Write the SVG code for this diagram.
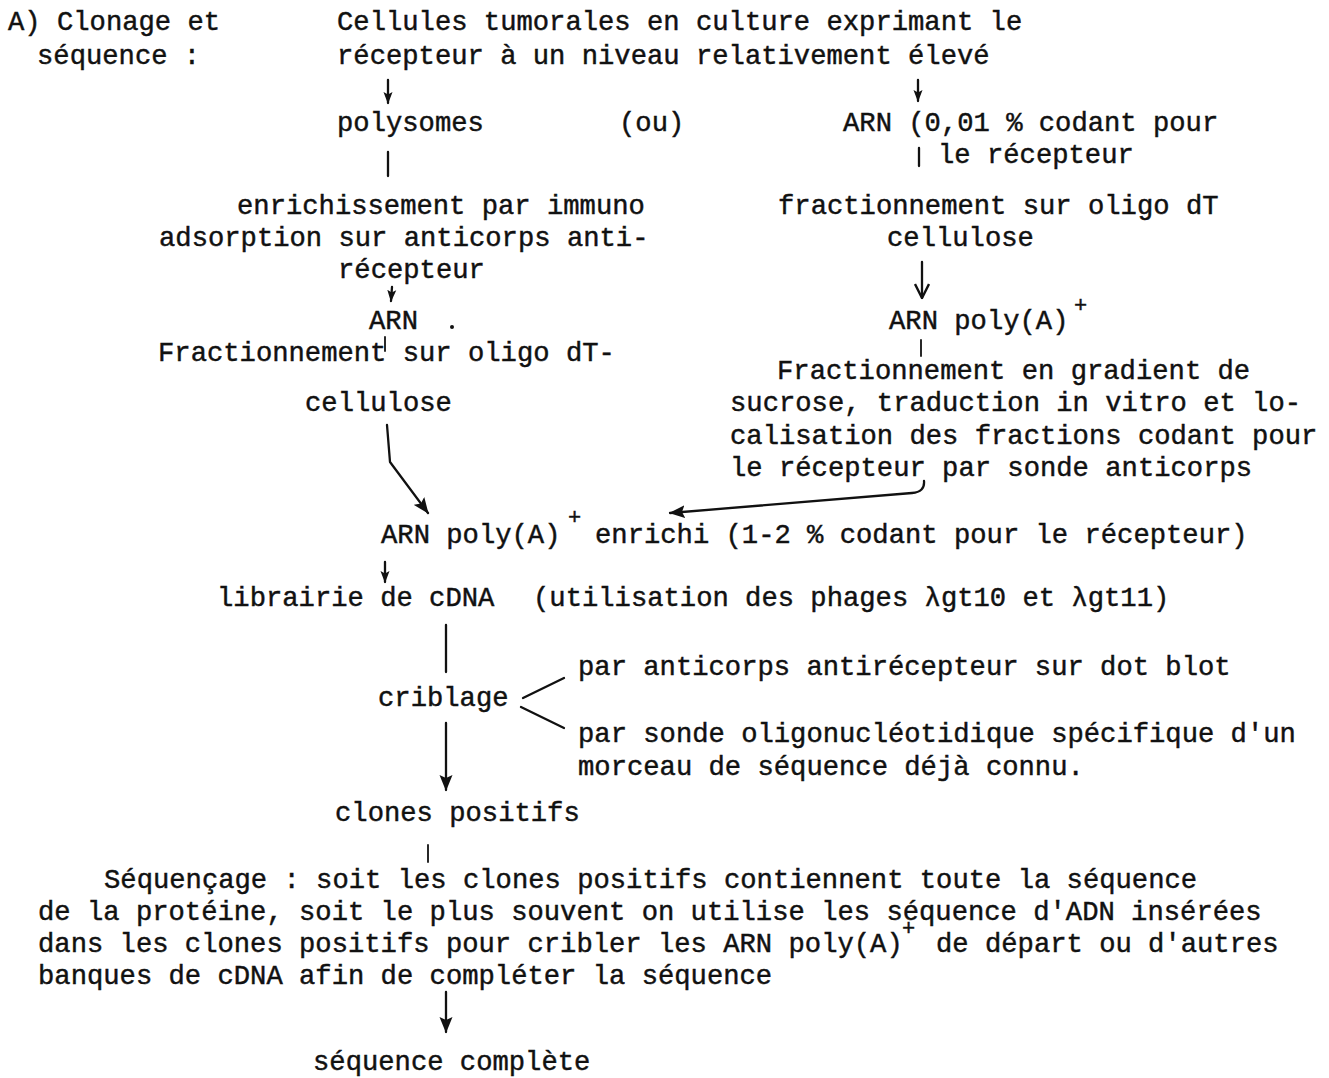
<svg xmlns="http://www.w3.org/2000/svg" width="1329" height="1078" viewBox="0 0 1329 1078">
  <style>
    text { font-family: "Liberation Mono", "DejaVu Sans Mono", monospace; font-size: 27.2px; fill: #111; stroke: #111; stroke-width: 0.45; }
    .sup { font-size: 22px; }
    .ln { fill: none; stroke: #111; stroke-width: 2.3; stroke-linecap: round; stroke-linejoin: round; }
    .thin { stroke-width: 1.8; }
  </style>
  <defs>
    <marker id="headS" viewBox="0 0 12 10" refX="11" refY="5" markerWidth="12" markerHeight="10" markerUnits="userSpaceOnUse" orient="auto">
      <path d="M0,0.5 L12,5 L0,9.5 L2.5,5 z" fill="#111"/>
    </marker>
    <marker id="headL" viewBox="0 0 16 14" refX="15" refY="7" markerWidth="16" markerHeight="14" markerUnits="userSpaceOnUse" orient="auto">
      <path d="M0,0.5 L16,7 L0,13.5 L3,7 z" fill="#111"/>
    </marker>
    <marker id="headV" viewBox="0 0 16 16" refX="15" refY="8" markerWidth="16" markerHeight="16" markerUnits="userSpaceOnUse" orient="auto">
      <path d="M1,1 L15,8 L1,15" fill="none" stroke="#111" stroke-width="2.4"/>
    </marker>
  </defs>

  <!-- section heading -->
  <g id="heading">
    <text x="8" y="30">A) Clonage et</text>
    <text x="37" y="64">séquence :</text>
  </g>

  <g id="n-cells">
    <text x="337" y="30">Cellules tumorales en culture exprimant le</text>
    <text x="337" y="64">récepteur à un niveau relativement élevé</text>
  </g>

  <g id="n-polysomes">
    <text x="337" y="131">polysomes</text>
  </g>
  <g id="n-ou">
    <text x="619" y="131">(ou)</text>
  </g>
  <g id="n-arn-total">
    <text x="843" y="131">ARN (0,01 % codant pour</text>
    <text x="938" y="163">le récepteur</text>
  </g>

  <g id="n-immuno">
    <text x="237" y="214">enrichissement par immuno</text>
    <text x="159" y="246">adsorption sur anticorps anti-</text>
    <text x="338" y="278">récepteur</text>
  </g>
  <g id="n-oligo-right">
    <text x="778" y="214">fractionnement sur oligo dT</text>
    <text x="887" y="246">cellulose</text>
  </g>

  <g id="n-arn-left">
    <text x="369" y="329">ARN</text>
    <circle cx="452" cy="327" r="2" fill="#111"/>
  </g>
  <g id="n-polyA-right">
    <text x="889" y="329">ARN poly(A)</text>
    <text class="sup" x="1074" y="312">+</text>
  </g>

  <g id="n-oligo-left">
    <text x="158" y="361">Fractionnement sur oligo dT-</text>
    <text x="305" y="411">cellulose</text>
  </g>
  <g id="n-gradient">
    <text x="777" y="379">Fractionnement en gradient de</text>
    <text x="730" y="411">sucrose, traduction in vitro et lo-</text>
    <text x="730" y="444">calisation des fractions codant pour</text>
    <text x="730" y="476">le récepteur par sonde anticorps</text>
  </g>

  <g id="n-enriched">
    <text x="381" y="543">ARN poly(A)</text>
    <text class="sup" x="568" y="524">+</text>
    <text x="595" y="543">enrichi (1-2 % codant pour le récepteur)</text>
  </g>

  <g id="n-library">
    <text x="217" y="606">librairie de cDNA</text>
    <text x="533" y="606">(utilisation des phages λgt10 et λgt11)</text>
  </g>

  <g id="n-screening">
    <text x="378" y="706">criblage</text>
  </g>
  <g id="n-screen-antibody">
    <text x="578" y="675">par anticorps antirécepteur sur dot blot</text>
  </g>
  <g id="n-screen-probe">
    <text x="578" y="742">par sonde oligonucléotidique spécifique d'un</text>
    <text x="578" y="775">morceau de séquence déjà connu.</text>
  </g>

  <g id="n-clones">
    <text x="335" y="821">clones positifs</text>
  </g>

  <g id="n-sequencing">
    <text x="104" y="888">Séquençage : soit les clones positifs contiennent toute la séquence</text>
    <text x="38" y="920">de la protéine, soit le plus souvent on utilise les séquence d'ADN insérées</text>
    <text x="38" y="952">dans les clones positifs pour cribler les ARN poly(A)</text>
    <text class="sup" x="902" y="935">+</text>
    <text x="936" y="952">de départ ou d'autres</text>
    <text x="38" y="984">banques de cDNA afin de compléter la séquence</text>
  </g>

  <g id="n-complete">
    <text x="313" y="1070">séquence complète</text>
  </g>

  <!-- connectors -->
  <g id="connectors">
    <path class="ln" d="M388,80 L388,103" marker-end="url(#headS)"/>
    <path class="ln" d="M918,80 L918,101" marker-end="url(#headS)"/>
    <path class="ln" d="M388,152 L388,176"/>
    <path class="ln" d="M919,148 L919,166"/>
    <path class="ln" d="M922,262 L922,298" marker-end="url(#headV)"/>
    <path class="ln" d="M392,287 L391,301" marker-end="url(#headS)"/>
    <path class="ln thin" d="M385,337 L385,351"/>
    <path class="ln thin" d="M921,340 L921,356"/>
    <path class="ln" d="M387,425 L390,462 L428,513" marker-end="url(#headL)"/>
    <path class="ln" d="M924,481 Q925,492 912,493 L670,513" marker-end="url(#headL)"/>
    <path class="ln" d="M385,562 L385,582" marker-end="url(#headS)"/>
    <path class="ln" d="M446,625 L446,672"/>
    <path class="ln" d="M523,698 L564,678"/>
    <path class="ln" d="M521,707 L564,728"/>
    <path class="ln" d="M446,723 L446,790" marker-end="url(#headL)"/>
    <path class="ln thin" d="M428,845 L428,862"/>
    <path class="ln" d="M446,992 L446,1032" marker-end="url(#headL)"/>
  </g>
</svg>
